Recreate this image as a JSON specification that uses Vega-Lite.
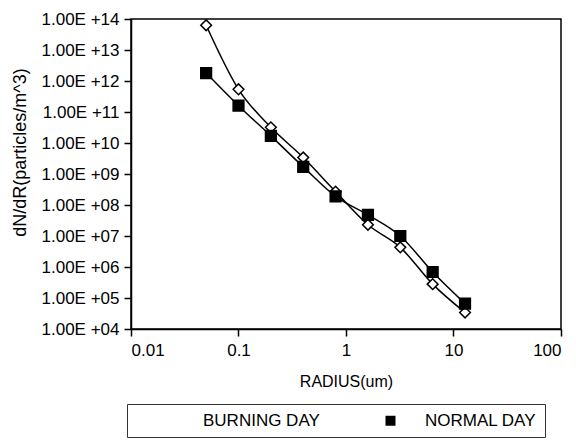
{
  "$schema": "https://vega.github.io/schema/vega-lite/v6.json",
  "width": 430,
  "height": 310,
  "autosize": {"type": "none"},
  "padding": {"left": 131, "top": 19, "right": 15, "bottom": 111},
  "background": "white",
  "config": {
    "view": {"stroke": "black", "strokeWidth": 1.5},
    "font": "Liberation Sans",
    "axis": {
      "domainColor": "black", "domainWidth": 1.5,
      "tickColor": "black", "tickWidth": 1.5, "tickSize": 7,
      "labelColor": "black", "titleColor": "black", "grid": false,
      "labelFont": "Liberation Sans", "titleFont": "Liberation Sans",
      "titleFontWeight": "normal", "labelFontSize": 17, "titleFontSize": 17
    }
  },
  "data": {
    "values": [
      {"series": "BURNING DAY", "radius": 0.05, "dndr": 6.3e13},
      {"series": "BURNING DAY", "radius": 0.1, "dndr": 5.4e11},
      {"series": "BURNING DAY", "radius": 0.2, "dndr": 3.2e10},
      {"series": "BURNING DAY", "radius": 0.4, "dndr": 3.4e9},
      {"series": "BURNING DAY", "radius": 0.8, "dndr": 2.7e8},
      {"series": "BURNING DAY", "radius": 1.6, "dndr": 2.3e7},
      {"series": "BURNING DAY", "radius": 3.2, "dndr": 4.3e6},
      {"series": "BURNING DAY", "radius": 6.4, "dndr": 2.8e5},
      {"series": "BURNING DAY", "radius": 12.8, "dndr": 3.4e4},
      {"series": "NORMAL DAY", "radius": 0.05, "dndr": 1.8e12},
      {"series": "NORMAL DAY", "radius": 0.1, "dndr": 1.6e11},
      {"series": "NORMAL DAY", "radius": 0.2, "dndr": 1.7e10},
      {"series": "NORMAL DAY", "radius": 0.4, "dndr": 1.7e9},
      {"series": "NORMAL DAY", "radius": 0.8, "dndr": 1.9e8},
      {"series": "NORMAL DAY", "radius": 1.6, "dndr": 4.8e7},
      {"series": "NORMAL DAY", "radius": 3.2, "dndr": 1.0e7},
      {"series": "NORMAL DAY", "radius": 6.4, "dndr": 6.9e5},
      {"series": "NORMAL DAY", "radius": 12.8, "dndr": 6.6e4}
    ]
  },
  "encoding": {
    "x": {
      "field": "radius", "type": "quantitative",
      "scale": {"type": "log", "domain": [0.01, 100], "nice": false},
      "axis": {"values": [0.01, 0.1, 1, 10, 100], "format": "~g", "title": "RADIUS(um)", "labelPadding": 6, "titlePadding": 15, "titleFontSize": 16}
    },
    "y": {
      "field": "dndr", "type": "quantitative",
      "scale": {"type": "log", "domain": [1e4, 1e14], "nice": false},
      "axis": {
        "values": [1e4, 1e5, 1e6, 1e7, 1e8, 1e9, 1e10, 1e11, 1e12, 1e13, 1e14],
        "labelExpr": "'1.00E +' + (round(log(datum.value)/LN10) < 10 ? '0' : '') + round(log(datum.value)/LN10)",
        "title": "dN/dR(particles/m^3)", "labelPadding": 5, "titlePadding": 12, "titleY": 133, "titleFontSize": 18
      }
    }
  },
  "layer": [
    {
      "mark": {"type": "line", "interpolate": "monotone", "color": "black", "strokeWidth": 1.5},
      "encoding": {"detail": {"field": "series"}}
    },
    {
      "mark": {"type": "point", "filled": false, "stroke": "black", "strokeWidth": 1.5, "opacity": 1, "size": 115},
      "encoding": {
        "shape": {
          "field": "series",
          "scale": {"domain": ["BURNING DAY", "NORMAL DAY"], "range": ["diamond", "square"]},
          "legend": {
            "orient": "none", "legendX": -4, "legendY": 385,
            "direction": "horizontal", "title": null,
            "strokeColor": "#333", "padding": 8,
            "symbolSize": 100, "symbolOffset": 25, "labelOffset": 26, "columnPadding": 37,
            "labelFontSize": 17, "labelFont": "Liberation Sans", "labelColor": "black",
            "symbolStrokeWidth": 1.5, "symbolStrokeColor": "black",
            "encode": {
              "symbols": {
                "shape": {"value": {"expr": "datum.value === 'BURNING DAY' ? 'M-5.8,0H-1M1,0H5.8M0,-1L1,0L0,1L-1,0Z' : 'M-5.8,0H-0.9M0.9,0H5.8M-0.9,-0.9H0.9V0.9H-0.9Z'"}},
                "fill": {"value": {"expr": "datum.value === 'BURNING DAY' ? 'white' : 'black'"}},
                "stroke": {"value": "black"},
                "strokeWidth": {"value": 1.5}
              }
            }
          }
        },
        "fill": {
          "field": "series",
          "scale": {"domain": ["BURNING DAY", "NORMAL DAY"], "range": ["white", "black"]}
        }
      }
    }
  ]
}
